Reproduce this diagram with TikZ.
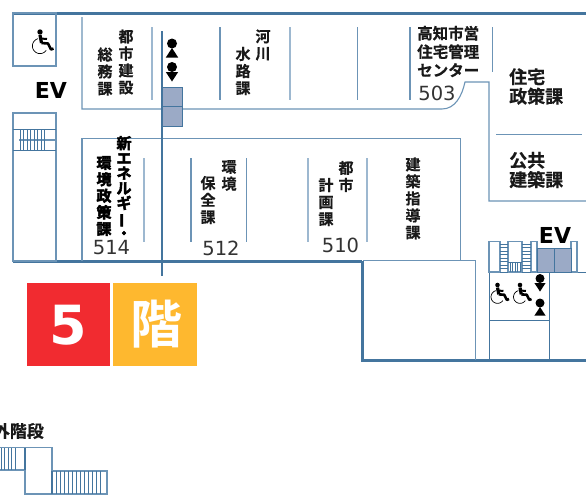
\documentclass[tikz,border=0pt]{standalone}
\usepackage{fontspec}
\usepackage{graphicx}
\setmainfont{DejaVu Sans}
\newfontfamily\cjk{Noto Sans CJK JP}[BoldFont={Noto Sans CJK JP Bold}]
\newfontfamily\cjkheavy{Noto Sans CJK JP Bold}[FakeBold=3]
\newfontfamily\cjkmed{Noto Sans CJK JP Bold}[FakeBold=0.4]
\definecolor{wall}{HTML}{44759E}
\definecolor{wallsoft}{HTML}{6C94B6}
\definecolor{wallpale}{HTML}{9DB8D0}
\definecolor{liftgray}{HTML}{9BAAC6}
\definecolor{redbox}{HTML}{F12B30}
\definecolor{orangebox}{HTML}{FEB82F}
\newcommand{\vbar}{\rotatebox[origin=c]{90}{ー}}
\tikzset{
  x=1pt,y=-1pt,
  thin wall/.style={draw=wall,line width=0.9pt},
  soft wall/.style={draw=wallsoft,line width=1.1pt},
  pale wall/.style={draw=wallpale,line width=1.2pt},
  heavy wall/.style={draw=wall,line width=2.1pt},
  lift/.style={draw=wall,line width=1pt,fill=liftgray},
  tread/.style={draw=wall,line width=0.7pt},
  vtext/.style={font=\cjkmed\fontsize{15}{17}\selectfont,align=center,text=black!90,inner sep=0pt},
  vheavy/.style={font=\cjkheavy\fontsize{15}{15}\selectfont,align=center,text=black,inner sep=0pt},
  sign/.style={font=\cjkmed\fontsize{18}{19.5}\selectfont,align=left,text=black!90,inner sep=0pt,anchor=west},
  centre/.style={font=\cjkmed\fontsize{15.5}{18.5}\selectfont,align=left,text=black!90,inner sep=0pt,anchor=west},
  roomno/.style={font=\fontsize{19.5}{19.5}\selectfont,text=black!80,inner sep=0pt},
  evtext/.style={font=\bfseries\fontsize{22}{22}\selectfont,text=black,inner sep=0pt},
  wheelchair/.pic={
    \fill[black] (0,0) circle[radius=2.7];
    \draw[black,line width=3.2pt] (0,3) -- (1.5,11);
    \draw[black,line width=2pt] (0.5,6.5) -- (7,7);
    \draw[black,line width=2.6pt,line join=round] (1.5,11) -- (8,11.5) -- (11,17.5) -- (13.5,16.5);
    \draw[black,line width=0.7pt] plot[smooth,domain=35:255,samples=24] ({7.6*cos(\x)},{14*1+7.6*sin(\x)});
  },
  ladies/.pic={
    \fill[black] (0,-5) circle[radius=5];
    \fill[black] (0,-0.5) -- (6.2,9) -- (-6.2,9) -- cycle;
  },
  gents/.pic={
    \fill[black] (0,-5) circle[radius=5];
    \fill[black] (-6.2,0) -- (6.2,0) -- (0,9.5) -- cycle;
  }
}
\begin{document}
\begin{tikzpicture}
\useasboundingbox (0,0) rectangle (586,499);
\clip (0,0) rectangle (586,499);
% outer walls
\draw[heavy wall] (13,13.5) -- (586,13.5);
\draw[heavy wall] (13,261.5) -- (362,261.5);
\draw[heavy wall] (362.5,261) -- (362.5,360.5) -- (586,360.5);
% wheelchair room
\draw[soft wall] (13,13) rectangle (56,66);
% left stair
\draw[soft wall] (13,113) rectangle (56,261);
\draw[draw=wall,line width=1.4pt] (13,129.5) -- (56,129.5);
\draw[draw=wall,line width=1.4pt] (13,150.5) -- (56,150.5);
\draw[soft wall] (19,140) -- (56,140);
\foreach \xx in {20,23.5,...,46} \draw[tread] (\xx,130) -- (\xx,150);
% north office block
\draw[soft wall] (82,17) -- (82,109) -- (442,109) .. controls (455,109) and (462,96) .. (465,82) -- (489,82) -- (489,201) -- (586,201);
\draw[soft wall] (496,134.5) -- (582,134.5);
\draw[pale wall] (152,27) -- (152,100);
\draw[soft wall] (220,27) -- (220,100);
\draw[pale wall] (290,27) -- (290,100);
\draw[soft wall] (357.5,27) -- (357.5,100);
\draw[soft wall] (410,27) -- (410,100);
\draw[soft wall] (492.5,27) -- (492.5,72);
% south office block
\draw[soft wall] (82,261) -- (82,138.5) -- (460.5,138.5) -- (460.5,261);
\draw[pale wall] (144,158) -- (144,242);
\draw[soft wall] (191,158) -- (191,242);
\draw[soft wall] (246.5,158) -- (246.5,242);
\draw[pale wall] (308,158) -- (308,242);
\draw[pale wall] (367,158) -- (367,242);
% lifts beside centre line
\draw[lift] (162,87) rectangle (182,106.5);
\draw[lift] (162,106.5) rectangle (182,126);
\draw[draw=wall,line width=2pt] (162,31) -- (162,275.5);
% south-east block
\draw[soft wall] (363,260.5) -- (475.5,260.5) -- (475.5,360);
\draw[thin wall] (489,242) -- (489,360);
\draw[thin wall] (549.5,272) -- (549.5,360);
\draw[thin wall] (489,272) -- (586,272);
\draw[thin wall] (489,320) -- (549.5,320);
\draw[soft wall] (489,241.5) rectangle (500,272);
\draw[soft wall] (508,241.5) rectangle (522,272);
\draw[soft wall] (531,241.5) rectangle (537,272);
\draw[soft wall] (571,241.5) rectangle (577,272);
\foreach \yy in {244,247.5,...,272} \draw[tread] (500,\yy) -- (508,\yy);
\foreach \yy in {244,247.5,...,272} \draw[tread] (522,\yy) -- (531,\yy);
\draw[tread] (508,262) -- (522,262);
\foreach \xx in {510,512.5,...,521} \draw[tread] (\xx,262) -- (\xx,272);
\draw[lift] (537,248.5) rectangle (554,272);
\draw[lift] (554,248.5) rectangle (571,272);
% outdoor stair
\draw[soft wall] (-2,447.5) rectangle (25,470);
\draw[soft wall] (25,447.5) rectangle (52,494);
\draw[soft wall] (52,471) rectangle (107,494);
\draw[draw=wall,line width=1.2pt] (25,447.5) -- (25,470);
\draw[draw=wall,line width=1.2pt] (52,471) -- (52,494);
\foreach \xx in {1,4.5,...,18} \draw[tread] (\xx,448) -- (\xx,470);
\foreach \xx in {56,60,...,100} \draw[tread] (\xx,471) -- (\xx,494);
% floor tiles
\fill[redbox] (26.5,282.5) rectangle (109.5,365.5);
\fill[orangebox] (113,282.5) rectangle (197,365.5);
\node[font=\bfseries\fontsize{54}{54}\selectfont,text=white,inner sep=0pt] (floornum) at (68,325) {5};
\node[font=\cjk\bfseries\fontsize{52}{52}\selectfont,text=white,inner sep=0pt] (floorkai) at (156,324) {階};
% icons
\pic at (40,32) {wheelchair};
\pic[scale=0.85] at (497.5,285) {wheelchair};
\pic[scale=0.85] at (520,285) {wheelchair};
\pic at (172,48.5) {ladies};
\pic at (172,72) {gents};
\pic[scale=0.9] at (540,283) {gents};
\pic[scale=0.9] at (540,307.5) {ladies};
% labels
\node[evtext] (evleft) at (51,90) {EV};
\node[evtext] (evright) at (555,235) {EV};
\node[vtext] (t1) at (126,62) {都\\市\\建\\設};
\node[vtext] (t2) at (105,71.5) {総\\務\\課};
\node[vtext] (t3) at (263,45) {河\\川};
\node[vtext] (t4) at (243,71) {水\\路\\課};
\node[vheavy] (t5) at (124,187.5) {新\\エ\\ネ\\ル\\ギ\\\vbar\\・};
\node[vheavy,font=\cjkheavy\fontsize{15}{16.5}\selectfont] (t6) at (104,196) {環\\境\\政\\策\\課};
\node[vtext] (t7) at (229,175.5) {環\\境};
\node[vtext] (t8) at (208,200) {保\\全\\課};
\node[vtext] (t9) at (346,176.5) {都\\市};
\node[vtext] (t10) at (326,202) {計\\画\\課};
\node[vtext] (t11) at (413,198.5) {建\\築\\指\\導\\課};
\node[centre] (t12) at (417,51.5) {高知市営\\住宅管理\\センター};
\node[sign] (t13) at (509,86.5) {住宅\\政策課};
\node[sign] (t14) at (509,170) {公共\\建築課};
\node[font=\cjkmed\fontsize{17}{17}\selectfont,text=black!90,inner sep=0pt,anchor=east] (t15) at (44,431) {外階段};
\node[roomno] (n503) at (437,93) {503};
\node[roomno] (n514) at (111.5,248) {514};
\node[roomno] (n512) at (221,248) {512};
\node[roomno] (n510) at (340.5,245) {510};
\end{tikzpicture}
\end{document}
